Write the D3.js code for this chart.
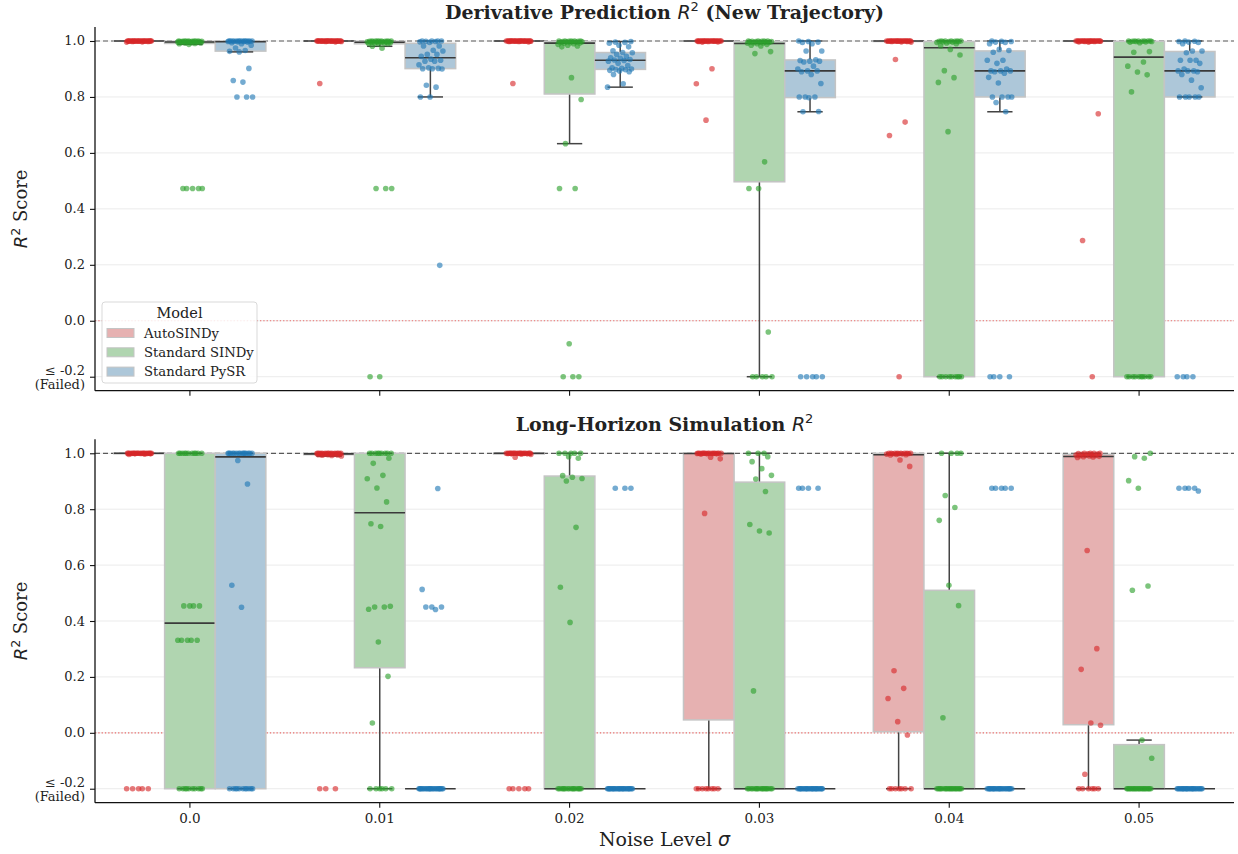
<!DOCTYPE html>
<html>
<head>
<meta charset="utf-8">
<script src="https://cdn.jsdelivr.net/npm/d3@7"></script>
<style>
  body { margin: 0; background: #fff; }
  svg text { font-family: "DejaVu Serif", serif; fill: #222; }
</style>
</head>
<body>
<svg id="chart" width="1238" height="854"></svg>
<script>
// noise levels (x categories) and models (hue)
const noiseLevels = ["0.0", "0.01", "0.02", "0.03", "0.04", "0.05"];
const models = ["AutoSINDy", "Standard SINDy", "Standard PySR"];
const yTicks = [1.0, 0.8, 0.6, 0.4, 0.2, 0.0, -0.2];

// Derivative prediction R^2, 30 trials per noise level (failures shown at -0.2)
const derivAuto = [
  [0.996,0.997,0.998,0.998,0.999,0.999,0.999,0.999,1,1,1,1,1,1,1,1,1,1,1,1,1,1,1,1,1,1,1,1,1,1],
  [0.848,0.997,0.998,0.998,0.999,0.999,0.999,1,1,1,1,1,1,1,1,1,1,1,1,1,1,1,1,1,1,1,1,1,1,1],
  [0.848,0.997,0.998,0.998,0.999,0.999,0.999,1,1,1,1,1,1,1,1,1,1,1,1,1,1,1,1,1,1,1,1,1,1,1],
  [0.717,0.847,0.901,0.996,0.997,0.998,0.998,0.999,0.999,1,1,1,1,1,1,1,1,1,1,1,1,1,1,1,1,1,1,1,1,1],
  [-0.2,0.662,0.710,0.934,0.996,0.997,0.998,0.998,0.999,0.999,1,1,1,1,1,1,1,1,1,1,1,1,1,1,1,1,1,1,1,1],
  [-0.2,0.287,0.740,0.996,0.997,0.998,0.998,0.999,0.999,1,1,1,1,1,1,1,1,1,1,1,1,1,1,1,1,1,1,1,1,1]
];
const derivSindy = [
  [0.473,0.473,0.473,0.473,0.473,0.988,0.990,0.991,0.992,0.993,0.994,0.995,0.995,0.996,0.996,0.997,0.997,0.998,0.998,0.998,0.999,0.999,0.999,0.999,0.999,1,1,1,1,1],
  [-0.2,-0.2,0.473,0.473,0.473,0.974,0.981,0.990,0.990,0.991,0.992,0.993,0.994,0.995,0.995,0.996,0.996,0.997,0.997,0.998,0.998,0.999,0.999,0.999,1,1,1,1,1,1],
  [-0.2,-0.2,-0.2,-0.082,0.473,0.473,0.633,0.791,0.869,0.979,0.982,0.985,0.988,0.990,0.992,0.993,0.994,0.995,0.996,0.997,0.997,0.998,0.998,0.999,0.999,1,1,1,1,1],
  [-0.2,-0.2,-0.2,-0.2,-0.2,-0.04,0.473,0.473,0.568,0.955,0.962,0.982,0.985,0.988,0.990,0.992,0.993,0.994,0.995,0.996,0.997,0.997,0.998,0.998,0.999,0.999,1,1,1,1],
  [-0.2,-0.2,-0.2,-0.2,-0.2,-0.2,-0.2,-0.2,-0.2,0.676,0.852,0.869,0.894,0.950,0.970,0.982,0.990,0.993,0.995,0.996,0.997,0.998,0.998,0.999,0.999,1,1,1,1,1],
  [-0.2,-0.2,-0.2,-0.2,-0.2,-0.2,-0.2,-0.2,-0.2,-0.2,0.818,0.879,0.889,0.910,0.925,0.960,0.962,0.994,0.996,0.997,0.998,0.998,0.999,0.999,1,1,1,1,1,1]
];
const derivPysr = [
  [0.80,0.80,0.80,0.853,0.859,0.902,0.961,0.963,0.966,0.975,0.985,0.990,0.994,0.996,0.997,0.998,0.998,0.999,0.999,1,1,1,1,1,1,1,1,1,1,1],
  [0.198,0.80,0.80,0.835,0.842,0.900,0.901,0.901,0.902,0.904,0.915,0.928,0.928,0.931,0.935,0.945,0.952,0.952,0.964,0.967,0.982,0.982,0.995,0.997,0.998,0.999,1,1,1,1],
  [0.835,0.847,0.880,0.890,0.893,0.895,0.897,0.898,0.900,0.902,0.904,0.912,0.920,0.928,0.930,0.932,0.934,0.938,0.940,0.945,0.952,0.958,0.959,0.965,0.979,0.985,0.992,0.995,0.996,0.998],
  [-0.2,-0.2,-0.2,-0.2,-0.2,0.747,0.748,0.797,0.80,0.80,0.80,0.848,0.880,0.890,0.893,0.893,0.900,0.910,0.925,0.928,0.928,0.930,0.933,0.964,0.964,0.990,0.995,0.996,0.998,1],
  [-0.2,-0.2,-0.2,-0.2,0.747,0.780,0.80,0.80,0.80,0.80,0.850,0.870,0.885,0.890,0.893,0.893,0.893,0.900,0.920,0.931,0.931,0.960,0.966,0.970,0.990,0.995,0.996,0.998,0.999,1],
  [-0.2,-0.2,-0.2,-0.2,0.80,0.80,0.80,0.80,0.80,0.833,0.860,0.880,0.890,0.893,0.893,0.893,0.900,0.920,0.931,0.931,0.931,0.958,0.964,0.964,0.990,0.995,0.996,0.998,0.999,1]
];

// Long-horizon simulation R^2
const simAuto = [
  [-0.2,-0.2,-0.2,-0.2,-0.2,0.996,0.997,0.998,0.998,0.999,0.999,0.999,1,1,1,1,1,1,1,1,1,1,1,1,1,1,1,1,1,1],
  [-0.2,-0.2,-0.2,0.990,0.992,0.993,0.994,0.995,0.995,0.996,0.996,0.997,0.997,0.998,0.998,0.998,0.999,0.999,0.999,1,1,1,1,1,1,1,1,1,1,1],
  [-0.2,-0.2,-0.2,-0.2,-0.2,0.986,0.996,0.997,0.998,0.998,0.999,0.999,0.999,1,1,1,1,1,1,1,1,1,1,1,1,1,1,1,1,1],
  [-0.2,-0.2,-0.2,-0.2,-0.2,-0.2,-0.2,-0.2,0.785,0.980,0.986,0.997,0.998,0.998,0.999,0.999,1,1,1,1,1,1,1,1,1,1,1,1,1,1],
  [-0.2,-0.2,-0.2,-0.2,-0.2,-0.2,-0.2,-0.008,0.040,0.123,0.159,0.222,0.953,0.976,0.994,0.995,0.996,0.997,0.998,0.998,0.999,0.999,1,1,1,1,1,1,1,1],
  [-0.2,-0.2,-0.2,-0.2,-0.2,-0.2,-0.148,0.027,0.035,0.227,0.301,0.652,0.985,0.987,0.988,0.989,0.990,0.991,0.992,0.993,0.994,0.995,0.996,0.997,0.998,0.999,1,1,1,1]
];
const simSindy = [
  [-0.2,-0.2,-0.2,-0.2,-0.2,-0.2,-0.2,-0.2,-0.2,-0.2,0.331,0.331,0.331,0.331,0.331,0.454,0.454,0.454,0.454,1,1,1,1,1,1,1,1,1,1,1],
  [-0.2,-0.2,-0.2,-0.2,-0.2,-0.2,0.035,0.202,0.325,0.442,0.450,0.450,0.453,0.738,0.748,0.826,0.876,0.909,0.921,0.964,0.982,1,1,1,1,1,1,1,1,1],
  [-0.2,-0.2,-0.2,-0.2,-0.2,-0.2,-0.2,-0.2,-0.2,-0.2,-0.2,-0.2,-0.2,-0.2,-0.2,-0.2,0.395,0.521,0.735,0.901,0.910,0.914,0.920,0.982,0.988,1,1,1,1,1],
  [-0.2,-0.2,-0.2,-0.2,-0.2,-0.2,-0.2,-0.2,-0.2,-0.2,-0.2,-0.2,-0.2,-0.2,-0.2,-0.2,-0.2,0.150,0.715,0.722,0.745,0.863,0.908,0.921,0.945,0.970,0.988,1,1,1],
  [-0.2,-0.2,-0.2,-0.2,-0.2,-0.2,-0.2,-0.2,-0.2,-0.2,-0.2,-0.2,-0.2,-0.2,-0.2,-0.2,-0.2,-0.2,-0.2,-0.2,0.054,0.455,0.528,0.760,0.806,0.849,1,1,1,1],
  [-0.2,-0.2,-0.2,-0.2,-0.2,-0.2,-0.2,-0.2,-0.2,-0.2,-0.2,-0.2,-0.2,-0.2,-0.2,-0.2,-0.2,-0.2,-0.2,-0.2,-0.2,-0.091,-0.026,0.510,0.525,0.875,0.902,0.982,0.988,1]
];
const simPysr = [
  [-0.2,-0.2,-0.2,-0.2,-0.2,-0.2,-0.2,-0.2,-0.2,-0.2,-0.2,0.449,0.528,0.890,0.974,1,1,1,1,1,1,1,1,1,1,1,1,1,1,1],
  [-0.2,-0.2,-0.2,-0.2,-0.2,-0.2,-0.2,-0.2,-0.2,-0.2,-0.2,-0.2,-0.2,-0.2,-0.2,-0.2,-0.2,-0.2,-0.2,-0.2,-0.2,-0.2,-0.2,-0.2,0.441,0.450,0.450,0.450,0.513,0.874],
  [-0.2,-0.2,-0.2,-0.2,-0.2,-0.2,-0.2,-0.2,-0.2,-0.2,-0.2,-0.2,-0.2,-0.2,-0.2,-0.2,-0.2,-0.2,-0.2,-0.2,-0.2,-0.2,-0.2,-0.2,-0.2,-0.2,-0.2,0.875,0.875,0.875],
  [-0.2,-0.2,-0.2,-0.2,-0.2,-0.2,-0.2,-0.2,-0.2,-0.2,-0.2,-0.2,-0.2,-0.2,-0.2,-0.2,-0.2,-0.2,-0.2,-0.2,-0.2,-0.2,-0.2,-0.2,-0.2,-0.2,0.875,0.875,0.875,0.875],
  [-0.2,-0.2,-0.2,-0.2,-0.2,-0.2,-0.2,-0.2,-0.2,-0.2,-0.2,-0.2,-0.2,-0.2,-0.2,-0.2,-0.2,-0.2,-0.2,-0.2,-0.2,-0.2,-0.2,-0.2,-0.2,0.875,0.875,0.875,0.875,0.875],
  [-0.2,-0.2,-0.2,-0.2,-0.2,-0.2,-0.2,-0.2,-0.2,-0.2,-0.2,-0.2,-0.2,-0.2,-0.2,-0.2,-0.2,-0.2,-0.2,-0.2,-0.2,-0.2,-0.2,-0.2,-0.2,0.865,0.875,0.875,0.875,0.875]
];

const pointColors = ["#d62728", "#2ca02c", "#1f77b4"];
const boxFills = ["#e6b1b1", "#b0d5b0", "#adc7d9"];

const svg = d3.select("#chart");
const left = 95, right = 1234;

const x = d3.scaleBand().domain(noiseLevels).range([left, right]);
const hue = d3.scaleBand().domain(models).range([-0.4 * x.bandwidth(), 0.4 * x.bandwidth()]);
const boxW = hue.bandwidth();
const jitter = 0.0667 * x.bandwidth();

function boxStats(values) {
  const s = values.slice().sort(d3.ascending);
  const q1 = d3.quantileSorted(s, 0.25), med = d3.quantileSorted(s, 0.5), q3 = d3.quantileSorted(s, 0.75);
  const iqr = q3 - q1;
  const lo = d3.min(s.filter(v => v >= q1 - 1.5 * iqr));
  const hi = d3.max(s.filter(v => v <= q3 + 1.5 * iqr));
  return { q1, med, q3, lo, hi };
}

function drawPanel(top, bottom, series, titleParts) {
  const y = d3.scaleLinear().domain([-0.25, 1.05]).range([bottom, top]);
  const g = svg.append("g");

  // grid
  g.selectAll(".grid").data(yTicks).enter().append("line")
    .attr("x1", left).attr("x2", right)
    .attr("y1", d => y(d)).attr("y2", d => y(d))
    .attr("stroke", "#ebebeb").attr("stroke-width", 1);

  // reference lines
  g.append("line").attr("x1", left).attr("x2", right).attr("y1", y(1)).attr("y2", y(1))
    .attr("stroke", "#333").attr("stroke-opacity", 0.8).attr("stroke-width", 1.2).attr("stroke-dasharray", "5,3");
  g.append("line").attr("x1", left).attr("x2", right).attr("y1", y(0)).attr("y2", y(0))
    .attr("stroke", "#e8403f").attr("stroke-opacity", 0.75).attr("stroke-width", 1.2).attr("stroke-dasharray", "1.3,2");

  // boxes
  noiseLevels.forEach((lvl, i) => {
    models.forEach((m, k) => {
      const st = boxStats(series[k][i]);
      const cx = x(lvl) + x.bandwidth() / 2 + hue(m) + boxW / 2;
      const bg = g.append("g");
      bg.append("line").attr("x1", cx).attr("x2", cx).attr("y1", y(st.q1)).attr("y2", y(st.lo))
        .attr("stroke", "#444").attr("stroke-width", 1.5);
      bg.append("line").attr("x1", cx).attr("x2", cx).attr("y1", y(st.q3)).attr("y2", y(st.hi))
        .attr("stroke", "#444").attr("stroke-width", 1.5);
      bg.append("rect").attr("x", cx - boxW / 2).attr("width", boxW)
        .attr("y", y(st.q3)).attr("height", Math.max(0, y(st.q1) - y(st.q3)))
        .attr("fill", boxFills[k]).attr("stroke", "#c4c4c4").attr("stroke-width", 1.5);
      [st.lo, st.hi].forEach(v => {
        bg.append("line").attr("x1", cx - boxW / 4).attr("x2", cx + boxW / 4)
          .attr("y1", y(v)).attr("y2", y(v)).attr("stroke", "#444").attr("stroke-width", 1.5);
      });
      bg.append("line").attr("x1", cx - boxW / 2).attr("x2", cx + boxW / 2)
        .attr("y1", y(st.med)).attr("y2", y(st.med)).attr("stroke", "#3a3a3a").attr("stroke-width", 1.6);
    });
  });

  // strip points
  noiseLevels.forEach((lvl, i) => {
    models.forEach((m, k) => {
      const cx = x(lvl) + x.bandwidth() / 2 + hue(m) + boxW / 2;
      g.selectAll(null).data(series[k][i]).enter().append("circle")
        .attr("cx", (d, j) => cx + (((j * 0.618034 + 0.37 * k + 0.13 * i) % 1) - 0.5) * 2 * jitter)
        .attr("cy", d => y(d))
        .attr("r", 2.8)
        .attr("fill", pointColors[k]).attr("fill-opacity", 0.62);
    });
  });

  // axes
  const yAxis = d3.axisLeft(y).tickValues(yTicks).tickSize(5).tickFormat(() => "");
  const ya = g.append("g").attr("transform", `translate(${left},0)`).call(yAxis);
  ya.select(".domain").attr("stroke", "#111").attr("stroke-width", 1.3).attr("d", `M-0,${bottom}V${top}`);
  ya.selectAll(".tick line").attr("stroke", "#111").attr("stroke-width", 1.1);
  yTicks.forEach(t => {
    if (t > -0.2) {
      g.append("text").attr("x", left - 10).attr("y", y(t) + 4.5).attr("text-anchor", "end")
        .style("font-size", "13px").text(d3.format(".1f")(t));
    } else {
      g.append("text").attr("x", left - 10).attr("y", y(t) - 2).attr("text-anchor", "end")
        .style("font-size", "13px").text("≤ -0.2");
      g.append("text").attr("x", left - 10).attr("y", y(t) + 12.5).attr("text-anchor", "end")
        .style("font-size", "13px").text("(Failed)");
    }
  });

  const xAxis = d3.axisBottom(x).tickSize(5).tickFormat(() => "");
  const xa = g.append("g").attr("transform", `translate(0,${bottom})`).call(xAxis);
  xa.select(".domain").attr("stroke", "#111").attr("stroke-width", 1.3).attr("d", `M${left},0H${right}`);
  xa.selectAll(".tick line").attr("stroke", "#111").attr("stroke-width", 1.1);

  // y label
  const yl = g.append("text")
    .attr("transform", `translate(27,${(top + bottom) / 2}) rotate(-90)`)
    .attr("text-anchor", "middle").style("font-size", "18px");
  yl.append("tspan").style("font-family", "DejaVu Sans").style("font-style", "italic").text("R");
  yl.append("tspan").attr("dy", -7).style("font-family", "DejaVu Sans").style("font-size", "12.5px").text("2");
  yl.append("tspan").attr("dy", 7).text(" Score");

  // title
  const tt = g.append("text").attr("x", (left + right) / 2).attr("y", top - 8)
    .attr("text-anchor", "middle").style("font-size", "19px").style("font-weight", "bold");
  tt.append("tspan").text(titleParts[0]);
  tt.append("tspan").style("font-family", "DejaVu Sans").style("font-style", "italic").style("font-weight", "normal").text("R");
  tt.append("tspan").attr("dy", -8).style("font-family", "DejaVu Sans").style("font-weight", "normal").style("font-size", "13px").text("2");
  tt.append("tspan").attr("dy", 8).text(titleParts[1]);

  return { y, xa };
}

drawPanel(27, 390.7, [derivAuto, derivSindy, derivPysr], ["Derivative Prediction ", " (New Trajectory)"]);
drawPanel(439.3, 802.7, [simAuto, simSindy, simPysr], ["Long-Horizon Simulation ", ""]);

// x tick labels on the bottom panel only
noiseLevels.forEach(lvl => {
  svg.append("text").attr("x", x(lvl) + x.bandwidth() / 2).attr("y", 823)
    .attr("text-anchor", "middle").style("font-size", "13.5px").text(lvl);
});

// x label
const xl = svg.append("text").attr("x", (left + right) / 2).attr("y", 846)
  .attr("text-anchor", "middle").style("font-size", "19px");
xl.append("tspan").text("Noise Level ");
xl.append("tspan").style("font-family", "DejaVu Sans").style("font-style", "italic").text("σ");

// legend
const lg = svg.append("g").attr("transform", "translate(102,302)");
lg.append("rect").attr("width", 155).attr("height", 81).attr("rx", 3)
  .attr("fill", "#fff").attr("fill-opacity", 0.85).attr("stroke", "#d9d9d9");
lg.append("text").attr("x", 77.5).attr("y", 16).attr("text-anchor", "middle").style("font-size", "14.5px").text("Model");
models.forEach((m, k) => {
  const yy = 31 + k * 19.3;
  lg.append("rect").attr("x", 5).attr("y", yy - 4.5).attr("width", 27).attr("height", 9)
    .attr("fill", boxFills[k]).attr("stroke", "#c4c4c4").attr("stroke-width", 1);
  lg.append("text").attr("x", 42).attr("y", yy + 4.5).style("font-size", "13.2px").text(m);
});
</script>
</body>
</html>
